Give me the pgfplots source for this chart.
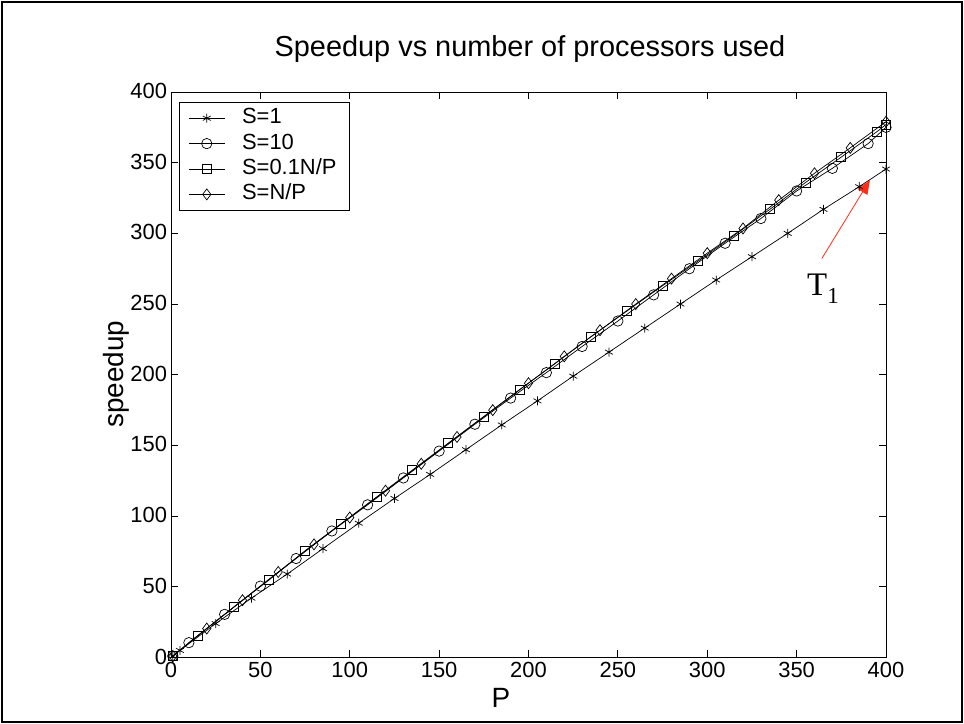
\documentclass[border=0pt]{standalone}
\usepackage{fontspec}
\setmainfont{Liberation Sans}
\newfontfamily\seriffont{Liberation Serif}
\usepackage{pgfplots}
\usepackage{pgfplotstable}
\pgfplotsset{compat=1.18}
\usetikzlibrary{arrows.meta}

\pgfplotstableread{
P S
1 1
5 5
25 24
45 42
65 59
85 77
105 95
125 112.5
145 129.5
165 147
185 164.5
205 181.5
225 199
245 216
265 233
285 250
305 267
325 283.5
345 300
365 317
385 333
400 345.5
}\sone

\pgfplotstableread{
P S
1 1
10 10.5
30 30.5
50 50.5
70 70
90 89.5
110 108
130 127
150 146
170 165
190 183.5
210 201.5
230 220
250 238
270 256.5
290 275
310 293
330 310.5
350 330
370 346
390 363.5
400 375
}\sten

\pgfplotstableread{
P S
1 1
15 15.5
35 35.5
55 55
75 75.5
95 94.5
115 113.5
135 132.5
155 151.5
175 170.5
195 189.5
215 208
235 227
255 245
275 263
295 280.5
315 298.5
335 317
355 336
375 354
395 372
400 377
}\sfrac

\pgfplotstableread{
P S
1 1
20 20.5
40 40.5
60 60.5
80 80
100 99
120 118
140 137
160 156
180 175
200 194
220 213
240 231.5
260 250
280 268
300 286
320 303.5
340 323.5
360 342.5
380 360.5
400 379
}\snp

\definecolor{arrowred}{RGB}{255,45,20}

\begin{document}
\begin{tikzpicture}
\useasboundingbox (0bp,0bp) rectangle (964bp,724bp);
\draw[line width=2.5bp] (2bp,2bp) rectangle (962bp,722bp);
\node[anchor=base, font=\fontsize{29}{29}\selectfont] at (530bp,667bp) {Speedup vs number of processors used};
\node[anchor=base, font=\fontsize{28}{28}\selectfont] at (501bp,17bp) {P};
\node[anchor=base, rotate=90, font=\fontsize{28}{28}\selectfont] at (123bp,350bp) {speedup};
\begin{axis}[
  at={(171bp,66.5bp)}, anchor=south west,
  scale only axis, width=715bp, height=565.5bp,
  xmin=0, xmax=400, ymin=0, ymax=400,
  xtick={0,50,...,400}, ytick={0,50,...,400},
  tick align=inside, tick pos=both,
  major tick length=7bp,
  axis line style={line width=0.8bp},
  tick style={line width=0.8bp, black},
  ticklabel style={font=\fontsize{22}{26}\selectfont},
  yticklabel style={xshift=-0.5bp, yshift=1bp},
  xticklabel style={yshift=-1bp},
  /pgf/number format/assume math mode=true,
  legend cell align=left,
  legend style={at={(0.0112,0.983)}, anchor=north west, draw=black, line width=0.8bp,
    font=\fontsize{22}{26}\selectfont, inner xsep=9bp, inner ysep=3.5bp,
    nodes={text height=15bp, text depth=4bp, inner xsep=4bp, inner ysep=3.2bp},
    column sep=13bp, row sep=0bp},
  legend image code/.code={\draw[mark repeat=2,mark phase=2,#1] plot coordinates {(0bp,0bp) (18bp,0bp) (36bp,0bp)};},
  every axis plot/.append style={black, line width=0.7bp, mark options={solid, line width=0.7bp}},
]
\addplot[mark=asterisk, mark size=4.5bp] table[x=P,y=S] {\sone};
\addlegendentry{S=1}
\addplot[mark=o, mark size=5.2bp] table[x=P,y=S] {\sten};
\addlegendentry{S=10}
\addplot[mark=square, mark size=4.5bp] table[x=P,y=S] {\sfrac};
\addlegendentry{S=0.1N/P}
\addplot[mark=diamond, mark size=5.5bp] table[x=P,y=S] {\snp};
\addlegendentry{S=N/P}
\draw[arrowred, line width=0.8bp, -{Triangle[length=14bp,width=11bp]}] (axis cs:364.1,282.2) -- (axis cs:391,337.7);
\node[anchor=base west, inner sep=0pt, font=\seriffont\fontsize{33}{33}\selectfont] at (axis cs:355.8,256.4) {T\raisebox{-8bp}{\fontsize{23}{23}\selectfont 1}};
\end{axis}
\end{tikzpicture}
\end{document}
